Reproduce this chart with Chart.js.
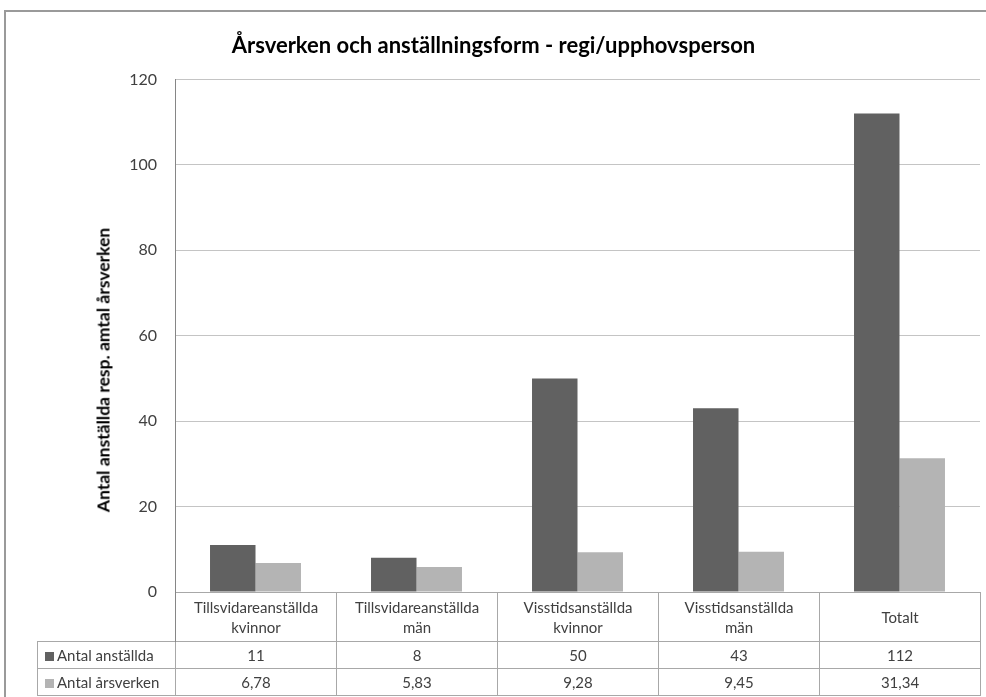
<!DOCTYPE html>
<html>
<head>
<meta charset="utf-8">
<script src="https://cdn.jsdelivr.net/npm/chart.js@4/dist/chart.umd.min.js"></script>
<style>
    body { margin: 0; background: #fff; font-family: Lato, Carlito, "Open Sans", sans-serif; }
    #wrap { position: relative; width: 986px; height: 697px; overflow: hidden; }
    #frame { position: absolute; left: 4px; top: 10px; width: 990px; height: 720px; border: 2px solid #9a9a9a; box-sizing: border-box; }
    #chart { position: absolute; left: 0; top: 0; }
    #yTitle { position: absolute; left: 103px; top: 370px; transform: translate(-50%, -50%) rotate(-90deg);
              white-space: nowrap; font-weight: bold; font-size: 17.5px; color: #000; }
    #dataTable { position: absolute; border-collapse: collapse; table-layout: fixed; color: #404040; font-size: 15px; }
    #dataTable td { border: 1px solid #a8a8a8; text-align: center; padding: 0; line-height: 20px; }
    #dataTable td.blank { border: none; border-right: 1px solid #868686; }
    #dataTable td.lab { text-align: left; padding-left: 7px; white-space: nowrap; }
    .mark { display: inline-block; width: 9px; height: 9px; margin-right: 3px; }
</style>
</head>
<body>
<div id="wrap">
    <div id="frame"></div>
    <canvas id="chart" width="986" height="697"></canvas>
    <div id="yTitle">Antal anställda resp. amtal årsverken</div>
    <table id="dataTable"></table>
</div>
<script>
// kategorier och serier
const categories = [
    ["Tillsvidareanställda", "kvinnor"],
    ["Tillsvidareanställda", "män"],
    ["Visstidsanställda", "kvinnor"],
    ["Visstidsanställda", "män"],
    ["Totalt"]
];
const seriesNames = ["Antal anställda", "Antal årsverken"];
const anstallda = [11, 8, 50, 43, 112];
const arsverken = [6.78, 5.83, 9.28, 9.45, 31.34];
const yMax = 120;
const yStep = 20;

const colors = ["#616161", "#b4b4b4"];
const textColor = "#404040";

const ctx = document.getElementById("chart").getContext("2d");
const chart = new Chart(ctx, {
    type: 'bar',
    data: {
        labels: categories.map(c => c.join(" ")),
        datasets: [
            { label: seriesNames[0], data: anstallda, backgroundColor: colors[0], borderWidth: 0 },
            { label: seriesNames[1], data: arsverken, backgroundColor: colors[1], borderWidth: 0 }
        ]
    },
    options: {
        responsive: false,
        animation: false,
        categoryPercentage: 0.565,
        barPercentage: 1,
        layout: { padding: { left: 7, right: 6, top: 10, bottom: 105 } },
        plugins: {
            legend: { display: false },
            tooltip: { enabled: false },
            title: {
                display: true,
                text: 'Årsverken och anställningsform - regi/upphovsperson',
                color: '#000',
                font: { family: 'Lato, Carlito, sans-serif', size: 22, weight: 'bold' },
                padding: { top: 23, bottom: 20 }
            }
        },
        scales: {
            x: {
                ticks: { display: false },
                grid: { display: false },
                border: { display: true, color: '#868686' },
                afterFit: s => { s.height = 0; }
            },
            y: {
                min: 0,
                max: yMax,
                ticks: {
                    stepSize: yStep,
                    padding: 18,
                    color: textColor,
                    font: { family: 'Lato, Carlito, sans-serif', size: 16 }
                },
                grid: { color: '#c4c4c4', drawTicks: false },
                border: { color: '#868686' },
                afterFit: s => { s.width = 168; }
            }
        }
    }
});

// datatabell under diagrammet
function fmt(v) {
    return String(v).replace(".", ",");
}

function renderTable() {
    const area = chart.chartArea;
    const table = document.getElementById("dataTable");
    const legendLeft = 37;
    const colW = (area.right - area.left) / categories.length;
    table.style.left = legendLeft + "px";
    table.style.top = Math.round(area.bottom) + "px";

    let html = "<colgroup><col style='width:" + (area.left - legendLeft) + "px'>";
    categories.forEach(() => { html += "<col style='width:" + colW + "px'>"; });
    html += "</colgroup>";

    html += "<tr style='height:49px'><td class='blank'></td>";
    categories.forEach(c => { html += "<td>" + c.join("<br>") + "</td>"; });
    html += "</tr>";

    [anstallda, arsverken].forEach((vals, i) => {
        html += "<tr style='height:27px'><td class='lab'><span class='mark' style='background:" + colors[i] + "'></span>" + seriesNames[i] + "</td>";
        vals.forEach(v => { html += "<td>" + fmt(v) + "</td>"; });
        html += "</tr>";
    });
    table.innerHTML = html;
}
renderTable();
</script>
</body>
</html>
